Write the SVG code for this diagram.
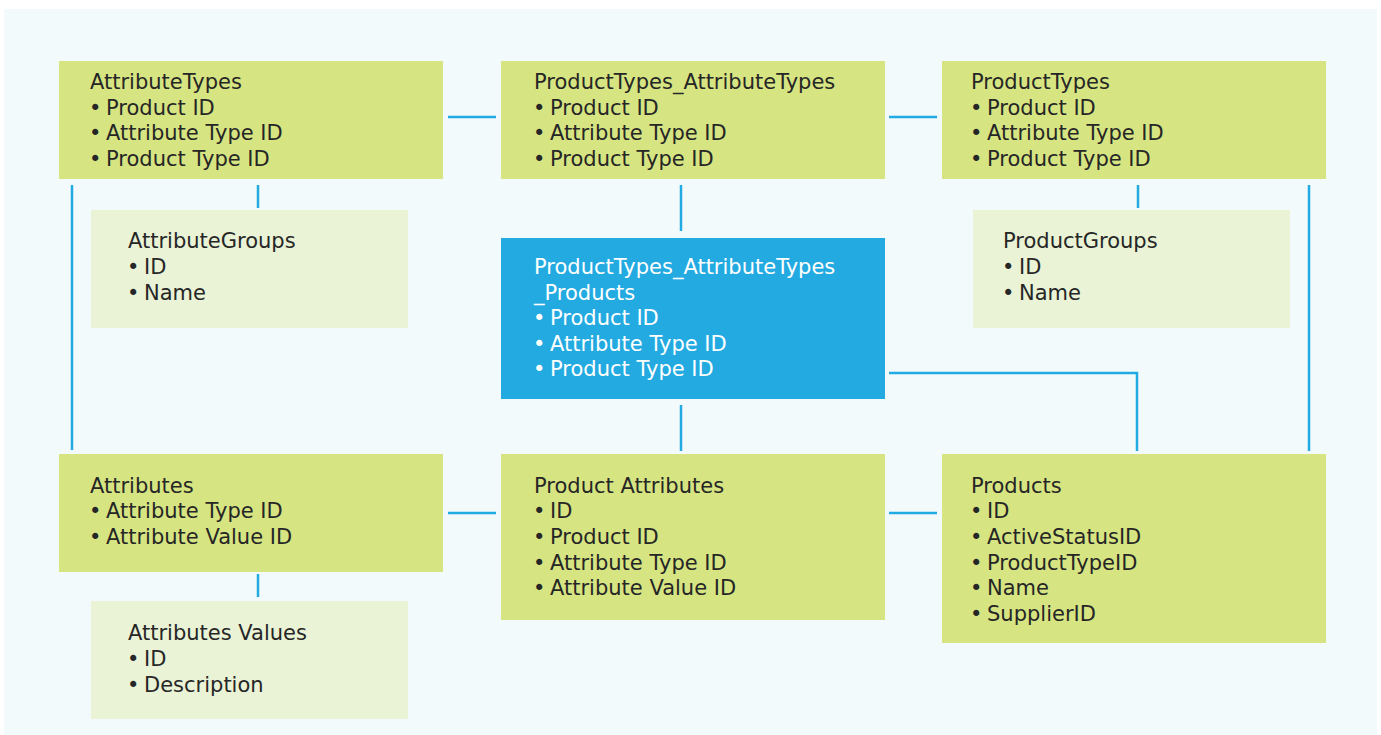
<svg xmlns="http://www.w3.org/2000/svg" width="1381" height="735" viewBox="0 0 1381 735">
<style>
.bg{fill:#f2fafc}
.g{fill:#d6e582}
.lg{fill:#eaf3d6}
.b{fill:#23aae1}
text{font-family:"DejaVu Sans","Liberation Sans",sans-serif;font-size:21px;fill:#262626}
.w text{fill:#ffffff}
.c{stroke:#23aae1;stroke-width:2.5;fill:none}
</style>
<rect x="0" y="0" width="1381" height="735" fill="#ffffff"/>
<rect class="bg" x="4" y="9" width="1373" height="726"/>
<g id="connectors" class="c">
<line x1="448" y1="117" x2="496" y2="117"/>
<line x1="889" y1="117" x2="937" y2="117"/>
<line x1="72" y1="185" x2="72" y2="450"/>
<line x1="258" y1="185" x2="258" y2="208"/>
<line x1="681" y1="185" x2="681" y2="231"/>
<line x1="1138" y1="185" x2="1138" y2="208"/>
<line x1="1309" y1="185" x2="1309" y2="451"/>
<line x1="681" y1="405" x2="681" y2="451"/>
<polyline points="889,373 1137,373 1137,451"/>
<line x1="448" y1="513" x2="496" y2="513"/>
<line x1="889" y1="513" x2="937" y2="513"/>
<line x1="258" y1="574" x2="258" y2="597"/>
</g>
<g id="AttributeTypes">
<rect class="g" x="59" y="61" width="384" height="118"/>
<text x="90" y="89">AttributeTypes</text>
<text x="89" y="115">•<tspan x="106">Product ID</tspan></text>
<text x="89" y="140">•<tspan x="106">Attribute Type ID</tspan></text>
<text x="89" y="166">•<tspan x="106">Product Type ID</tspan></text>
</g>
<g id="ProductTypes_AttributeTypes">
<rect class="g" x="501" y="61" width="384" height="118"/>
<text x="534" y="89">ProductTypes_AttributeTypes</text>
<text x="533" y="115">•<tspan x="550">Product ID</tspan></text>
<text x="533" y="140">•<tspan x="550">Attribute Type ID</tspan></text>
<text x="533" y="166">•<tspan x="550">Product Type ID</tspan></text>
</g>
<g id="ProductTypes">
<rect class="g" x="942" y="61" width="384" height="118"/>
<text x="971" y="89">ProductTypes</text>
<text x="970" y="115">•<tspan x="987">Product ID</tspan></text>
<text x="970" y="140">•<tspan x="987">Attribute Type ID</tspan></text>
<text x="970" y="166">•<tspan x="987">Product Type ID</tspan></text>
</g>
<g id="AttributeGroups">
<rect class="lg" x="91" y="210" width="317" height="118"/>
<text x="128" y="248">AttributeGroups</text>
<text x="127" y="274">•<tspan x="144">ID</tspan></text>
<text x="127" y="300">•<tspan x="144">Name</tspan></text>
</g>
<g id="ProductGroups">
<rect class="lg" x="973" y="210" width="317" height="118"/>
<text x="1003" y="248">ProductGroups</text>
<text x="1002" y="274">•<tspan x="1019">ID</tspan></text>
<text x="1002" y="300">•<tspan x="1019">Name</tspan></text>
</g>
<g id="ProductTypes_AttributeTypes_Products" class="w">
<rect class="b" x="501" y="238" width="384" height="161"/>
<text x="534" y="274">ProductTypes_AttributeTypes</text>
<text x="534" y="300">_Products</text>
<text x="533" y="325">•<tspan x="550">Product ID</tspan></text>
<text x="533" y="351">•<tspan x="550">Attribute Type ID</tspan></text>
<text x="533" y="376">•<tspan x="550">Product Type ID</tspan></text>
</g>
<g id="Attributes">
<rect class="g" x="59" y="454" width="384" height="118"/>
<text x="90" y="493">Attributes</text>
<text x="89" y="518">•<tspan x="106">Attribute Type ID</tspan></text>
<text x="89" y="544">•<tspan x="106">Attribute Value ID</tspan></text>
</g>
<g id="ProductAttributes">
<rect class="g" x="501" y="454" width="384" height="166"/>
<text x="534" y="493">Product Attributes</text>
<text x="533" y="518">•<tspan x="550">ID</tspan></text>
<text x="533" y="544">•<tspan x="550">Product ID</tspan></text>
<text x="533" y="570">•<tspan x="550">Attribute Type ID</tspan></text>
<text x="533" y="595">•<tspan x="550">Attribute Value ID</tspan></text>
</g>
<g id="Products">
<rect class="g" x="942" y="454" width="384" height="189"/>
<text x="971" y="493">Products</text>
<text x="970" y="518">•<tspan x="987">ID</tspan></text>
<text x="970" y="544">•<tspan x="987">ActiveStatusID</tspan></text>
<text x="970" y="570">•<tspan x="987">ProductTypeID</tspan></text>
<text x="970" y="595">•<tspan x="987">Name</tspan></text>
<text x="970" y="621">•<tspan x="987">SupplierID</tspan></text>
</g>
<g id="AttributesValues">
<rect class="lg" x="91" y="601" width="317" height="118"/>
<text x="128" y="640">Attributes Values</text>
<text x="127" y="666">•<tspan x="144">ID</tspan></text>
<text x="127" y="692">•<tspan x="144">Description</tspan></text>
</g>
</svg>
